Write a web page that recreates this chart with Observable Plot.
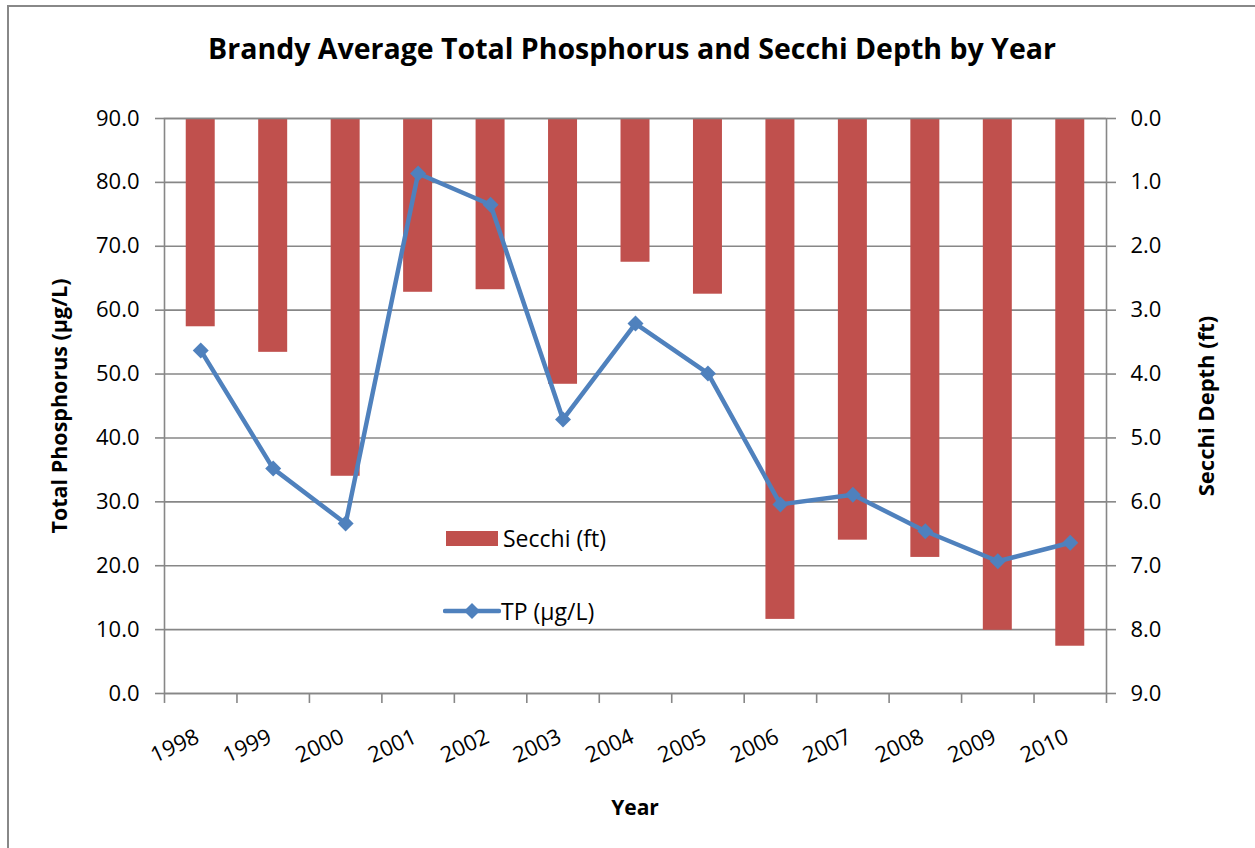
<!DOCTYPE html>
<html>
<head>
<meta charset="utf-8">
<script src="https://cdn.jsdelivr.net/npm/d3@7"></script>
<script src="https://cdn.jsdelivr.net/npm/@observablehq/plot@0.6"></script>
<style>
  html, body { margin: 0; padding: 0; background: #fff; }
  #wrap { position: relative; width: 1255px; height: 848px; overflow: hidden; font-family: "Open Sans", sans-serif; }
  #border { position: absolute; left: 7px; top: 5px; width: 1270px; height: 870px; border: 2px solid #888; box-sizing: border-box; }
  #chart { position: absolute; left: 0; top: 0; }
  .t { position: absolute; color: #000; white-space: nowrap; font-weight: bold; }
  #title { left: 632px; top: 48px; transform: translate(-50%, -50%); font-size: 28.5px; }
  #ylab { left: 58px; top: 406px; transform: translate(-50%, -50%) rotate(-90deg); font-size: 21.5px; }
  #y2lab { left: 1205px; top: 406px; transform: translate(-50%, -50%) rotate(-90deg); font-size: 22px; }
  #xlab { left: 635px; top: 807px; transform: translate(-50%, -50%); font-size: 21px; }
  .leg { position: absolute; font-size: 23px; color: #000; white-space: nowrap; display: flex; align-items: center; }
</style>
</head>
<body>
<div id="wrap">
  <div id="border"></div>
  <div id="chart"></div>
  <div class="t" id="title">Brandy Average Total Phosphorus and Secchi Depth by Year</div>
  <div class="t" id="ylab">Total Phosphorus (µg/L)</div>
  <div class="t" id="y2lab">Secchi Depth (ft)</div>
  <div class="t" id="xlab">Year</div>
  <div class="leg" style="left:446px; top:522px;">
    <svg width="52" height="30"><rect x="0" y="8" width="52" height="15" fill="#C0504D"></rect></svg>
    <span style="margin-left:5px">Secchi (ft)</span>
  </div>
  <div class="leg" style="left:443px; top:595px;">
    <svg width="58" height="30"><line x1="2" y1="15" x2="56" y2="15" stroke="#4F81BD" stroke-width="4.5" stroke-linecap="round"></line><path d="M29,7 L37,15 L29,23 L21,15 Z" fill="#4F81BD"></path></svg>
    <span style="margin-left:0px">TP (µg/L)</span>
  </div>
</div>
<script>
const years = ["1998","1999","2000","2001","2002","2003","2004","2005","2006","2007","2008","2009","2010"];
const tp = [53.7, 35.2, 26.6, 81.4, 76.5, 42.9, 57.9, 50.1, 29.6, 31.1, 25.4, 20.7, 23.6];
const secchi = [3.26, 3.66, 5.60, 2.72, 2.68, 4.16, 2.25, 2.75, 7.84, 6.60, 6.87, 8.01, 8.26];
const tpTicks = [0, 10, 20, 30, 40, 50, 60, 70, 80, 90];
const secchiMax = 9; // right axis 0.0 (top) .. 9.0 (bottom)

const W = 1255, H = 848;
const mL = 164, mR = W - 1106, mT = 118, mB = H - 693;
const step = (W - mL - mR) / years.length;

// map Secchi depth (ft) onto the left TP scale (inverted secondary axis)
const toY = d => 90 - d * (90 / secchiMax);

const tpData = years.map((y, i) => ({year: y, tp: tp[i]}));
const secData = years.map((y, i) => ({year: y, secchi: secchi[i]}));
const grey = "#878787";

const chart = Plot.plot({
  width: W, height: H,
  marginLeft: mL, marginRight: mR, marginTop: mT, marginBottom: mB,
  style: {fontFamily: "'Open Sans', sans-serif", fontSize: "22px", background: "transparent", color: "#000"},
  x: {type: "band", domain: years, paddingInner: 0.6, paddingOuter: 0.3, round: false, axis: null, label: null},
  y: {domain: [0, 90], axis: null, label: null},
  marks: [
    Plot.gridY(tpTicks, {stroke: grey, strokeOpacity: 1, strokeWidth: 1.6}),
    Plot.barY(secData, {x: "year", y1: 90, y2: d => toY(d.secchi), fill: "#C0504D"}),
    Plot.frame({stroke: grey, strokeWidth: 1.6}),
    // category boundary tick marks below the x axis
    Plot.ruleX(years, {x: d => d, y1: 0, y2: -1.56, dx: -step / 2, stroke: grey, strokeWidth: 1.6}),
    Plot.ruleX(years.slice(-1), {x: d => d, y1: 0, y2: -1.56, dx: step / 2, stroke: grey, strokeWidth: 1.6}),
    Plot.axisX(years, {tickSize: 0, tickPadding: 42, tickRotate: -25, dx: -3, fontSize: 22, fill: "#000", label: null}),
    Plot.axisY(tpTicks, {anchor: "left", tickSize: 9, tickPadding: 16, stroke: grey, strokeWidth: 1.6, fill: "#000", tickFormat: d3.format(".1f"), fontSize: 22, label: null}),
    Plot.axisY(tpTicks, {anchor: "right", tickSize: 9, tickPadding: 15, stroke: grey, strokeWidth: 1.6, fill: "#000", tickFormat: y => ((90 - y) * secchiMax / 90).toFixed(1), fontSize: 22, label: null}),
    Plot.line(tpData, {x: "year", y: "tp", stroke: "#4F81BD", strokeWidth: 4.5, strokeLinejoin: "round"}),
    Plot.dot(tpData, {x: "year", y: "tp", symbol: "diamond2", r: 7.2, fill: "#4F81BD", stroke: "none"})
  ]
});
document.getElementById("chart").appendChild(chart);
</script>
</body>
</html>
